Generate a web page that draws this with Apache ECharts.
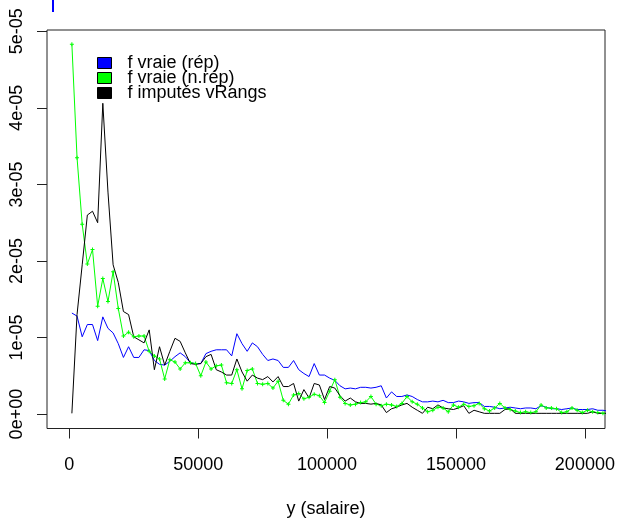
<!DOCTYPE html>
<html>
<head>
<meta charset="utf-8">
<title>densités salaire</title>
<script src="https://cdn.jsdelivr.net/npm/echarts@6/dist/echarts.min.js"></script>
<style>
  html, body { margin: 0; padding: 0; background: #fff; }
  #chart { width: 617px; height: 519px; }
</style>
</head>
<body>
<div id="chart"></div>
<script>
// bin midpoints of y (salaire)
var salaire = [
  1000, 3000, 5000, 7000, 9000, 11000, 13000, 15000, 17000, 19000,
  21000, 23000, 25000, 27000, 29000, 31000, 33000, 35000, 37000, 39000,
  41000, 43000, 45000, 47000, 49000, 51000, 53000, 55000, 57000, 59000,
  61000, 63000, 65000, 67000, 69000, 71000, 73000, 75000, 77000, 79000,
  81000, 83000, 85000, 87000, 89000, 91000, 93000, 95000, 97000, 99000,
  101000, 103000, 105000, 107000, 109000, 111000, 113000, 115000, 117000, 119000,
  121000, 123000, 125000, 127000, 129000, 131000, 133000, 135000, 137000, 139000,
  141000, 143000, 145000, 147000, 149000, 151000, 153000, 155000, 157000, 159000,
  161000, 163000, 165000, 167000, 169000, 171000, 173000, 175000, 177000, 179000,
  181000, 183000, 185000, 187000, 189000, 191000, 193000, 195000, 197000, 199000,
  201000, 203000, 205000, 207000, 209000
];

// densities, in units of 1e-05
var fVraieRep = [
  1.32, 1.28, 1.01, 1.17, 1.17, 0.96, 1.27, 1.12, 1.06, 0.92,
  0.74, 0.88, 0.74, 0.74, 0.84, 0.83, 0.70, 0.65, 0.64, 0.69,
  0.75, 0.80, 0.75, 0.67, 0.66, 0.66, 0.79, 0.82, 0.84, 0.84,
  0.84, 0.76, 1.05, 0.92, 0.82, 0.93, 0.88, 0.78, 0.70, 0.72,
  0.70, 0.61, 0.61, 0.70, 0.58, 0.53, 0.49, 0.66, 0.51, 0.51,
  0.47, 0.44, 0.37, 0.33, 0.34, 0.33, 0.35, 0.35, 0.34, 0.35,
  0.37, 0.21, 0.29, 0.23, 0.23, 0.25, 0.23, 0.19, 0.16, 0.16,
  0.17, 0.16, 0.18, 0.15, 0.15, 0.17, 0.16, 0.14, 0.15, 0.15,
  0.10, 0.10, 0.09, 0.07, 0.08, 0.09, 0.08, 0.07, 0.08, 0.08,
  0.07, 0.11, 0.09, 0.07, 0.07, 0.06, 0.07, 0.08, 0.06, 0.06,
  0.06, 0.07, 0.05, 0.05, 0.04
];
var fVraieNRep = [
  4.83, 3.35, 2.48, 1.96, 2.15, 1.41, 1.77, 1.47, 1.86, 1.38,
  1.02, 1.07, 1.01, 1.02, 1.02, 0.82, 0.76, 0.72, 0.46, 0.71,
  0.68, 0.59, 0.67, 0.67, 0.66, 0.50, 0.68, 0.59, 0.63, 0.64,
  0.41, 0.40, 0.58, 0.33, 0.57, 0.59, 0.40, 0.39, 0.40, 0.34,
  0.43, 0.18, 0.13, 0.25, 0.27, 0.20, 0.22, 0.26, 0.24, 0.15,
  0.30, 0.45, 0.22, 0.14, 0.12, 0.13, 0.15, 0.16, 0.23, 0.13,
  0.11, 0.13, 0.12, 0.10, 0.14, 0.23, 0.16, 0.13, 0.08, 0.03,
  0.05, 0.09, 0.08, 0.03, 0.12, 0.09, 0.13, 0.10, 0.11, 0.14,
  0.07, 0.04, 0.08, 0.14, 0.08, 0.06, 0.04, 0.02, 0.03, 0.02,
  0.03, 0.12, 0.08, 0.08, 0.07, 0.02, 0.03, 0.08, 0.05, 0.02,
  0.05, 0.03, 0.02, 0.01, 0.01
];
var fImputesVRangs = [
  0.01, 1.30, 1.95, 2.60, 2.65, 2.50, 4.06, 2.90, 1.95, 1.72,
  1.34, 1.30, 1.01, 0.97, 0.93, 1.10, 0.58, 0.88, 0.64, 0.82,
  0.99, 0.95, 0.80, 0.66, 0.65, 0.66, 0.75, 0.78, 0.58, 0.55,
  0.51, 0.51, 0.72, 0.55, 0.43, 0.51, 0.47, 0.45, 0.49, 0.42,
  0.49, 0.36, 0.36, 0.40, 0.17, 0.32, 0.21, 0.40, 0.38, 0.19,
  0.36, 0.34, 0.24, 0.17, 0.21, 0.16, 0.14, 0.14, 0.13, 0.14,
  0.12, 0.02, 0.07, 0.09, 0.12, 0.14, 0.09, 0.05, 0.01, 0.09,
  0.07, 0.12, 0.08, 0.07, 0.06, 0.08, 0.11, 0.01, 0.05, 0.03,
  0.01, 0.01, 0.01, 0.01, 0.06, 0.07, 0.01, 0.01, 0.01, 0.01,
  0.01, 0.01, 0.01, 0.01, 0.01, 0.01, 0.01, 0.01, 0.01, 0.01,
  0.01, 0.03, 0.01, 0.01, 0.01
];

var xTicks = [0, 50000, 100000, 150000, 200000];
var yTicks = [0, 1, 2, 3, 4, 5];
var yTickLabels = ['0e+00', '1e-05', '2e-05', '3e-05', '4e-05', '5e-05'];

var FONT = '"Liberation Sans", Arial, sans-serif';

function pairs(ys) {
  return salaire.map(function (x, i) { return [x, ys[i]]; });
}

var chart = echarts.init(document.getElementById('chart'));
var plus = 'path://M1.5,0h1v1.5h1.5v1h-1.5v1.5h-1v-1.5h-1.5v-1h1.5z';

var option = {
  animation: false,
  backgroundColor: '#fff',
  grid: {
    left: 47, right: 12, top: 30, bottom: 90.5,
    outerBoundsMode: 'none',
    show: true, borderColor: '#222', borderWidth: 1,
    backgroundColor: 'transparent'
  },
  legend: {
    orient: 'vertical',
    left: 97, top: 54, padding: 0,
    itemWidth: 14, itemHeight: 11, itemGap: -3,
    icon: 'rect',
    itemStyle: { borderColor: '#000', borderWidth: 1 },
    textStyle: { fontFamily: FONT, fontSize: 18, color: '#000', padding: [0, 0, 0, 11] },
    data: ['f vraie (rép)', 'f vraie (n.rép)', 'f imputés vRangs']
  },
  xAxis: {
    type: 'value',
    min: -8650, max: 207800,
    name: 'y (salaire)',
    nameLocation: 'middle',
    nameGap: 72,
    nameTextStyle: { fontFamily: FONT, fontSize: 18, color: '#000' },
    axisLine: { show: false, onZero: false },
    splitLine: { show: false },
    axisTick: { show: true, inside: false, length: 10, customValues: xTicks, lineStyle: { color: '#222' } },
    axisLabel: {
      customValues: xTicks, fontFamily: FONT, fontSize: 18, color: '#000', margin: 28,
      formatter: function (v) { return String(v); }
    }
  },
  yAxis: {
    type: 'value',
    min: -0.188, max: 5.017,
    axisLine: { show: false, onZero: false },
    splitLine: { show: false },
    axisTick: { show: true, inside: false, length: 10, customValues: yTicks, lineStyle: { color: '#222' } },
    axisLabel: {
      customValues: yTicks, rotate: 90, fontFamily: FONT, fontSize: 18, color: '#000', margin: 21,
      formatter: function (v) { return yTickLabels[yTicks.indexOf(Math.round(v))]; }
    }
  },
  series: [
    {
      name: 'f vraie (rép)', type: 'line', data: pairs(fVraieRep),
      showSymbol: false, symbol: 'none',
      color: '#0000ff', lineStyle: { color: '#0000ff', width: 1 }
    },
    {
      name: 'f vraie (n.rép)', type: 'line', data: pairs(fVraieNRep),
      symbol: plus, symbolSize: 4, showSymbol: true,
      color: '#00ff00', itemStyle: { color: '#00ff00' }, lineStyle: { color: '#00ff00', width: 1 }
    },
    {
      name: 'f imputés vRangs', type: 'line', data: pairs(fImputesVRangs),
      showSymbol: false, symbol: 'none',
      color: '#000000', lineStyle: { color: '#000000', width: 1 }
    }
  ],
  graphic: [
    { type: 'rect', shape: { x: 52, y: 0, width: 2, height: 12 }, style: { fill: '#0000ff' } }
  ]
};

chart.setOption(option);
</script>
</body>
</html>
